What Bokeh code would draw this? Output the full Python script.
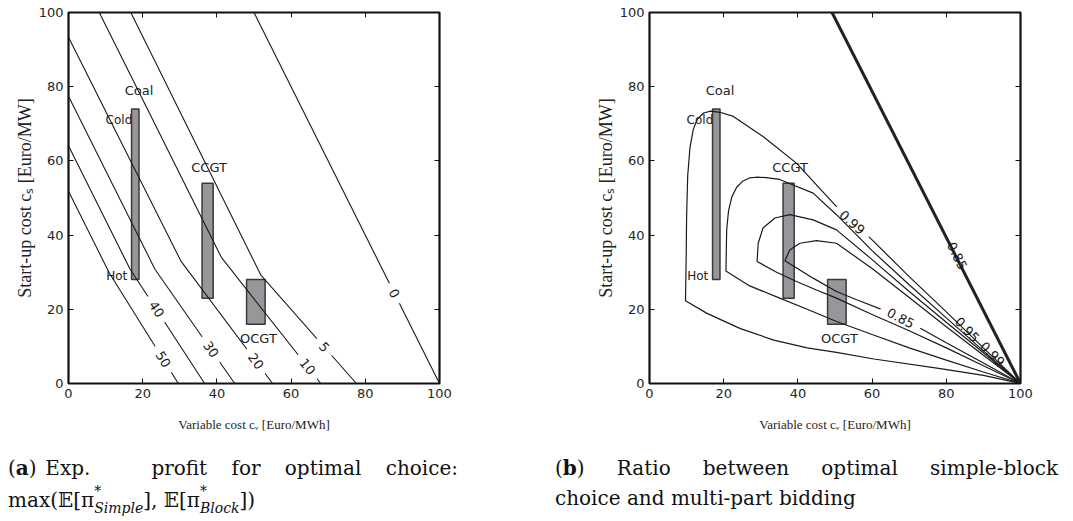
import math
from bokeh.plotting import figure
from bokeh.models import Range1d, LinearAxis, FixedTicker, Div, Spacer
from bokeh.layouts import row, column
from bokeh.core.properties import value
from bokeh.embed import file_html
from bokeh.resources import INLINE

# ---------------- data ----------------
plant_names = ["Coal", "CCGT", "OCGT"]
cv_low = [17.0, 36.0, 48.0]
cv_high = [19.0, 39.0, 53.0]
cs_low = [28.0, 23.0, 16.0]
cs_high = [74.0, 54.0, 28.0]
plant_label_x = [19.0, 37.9, 51.2]
plant_label_y = [79.0, 58.2, 12.1]
coal_states = ["Cold", "Hot"]
coal_state_x = [13.6, 13.0]
coal_state_y = [71.0, 29.0]
tick_values = [0, 20, 40, 60, 80, 100]

# (a) expected profit contours
profit_levels = ["50", "40", "30", "20", "10", "5", "0"]
profit_cv = [[0.0, 11.0, 29.6], [0.0, 16.5, 36.7], [0.0, 23.3, 44.8], [0.0, 30.3, 55.0],
             [8.3, 41.2, 68.0], [16.8, 51.8, 77.6], [50.0, 100.0]]
profit_cs = [[51.8, 29.8, 0.0], [64.1, 31.0, 0.0], [77.4, 30.8, 0.0], [93.3, 33.0, 0.0],
             [100.0, 34.0, 0.0], [100.0, 29.3, 0.0], [100.0, 0.0]]
profit_label_cv = [25.5, 23.7, 38.4, 50.5, 64.4, 68.9, 87.8]
profit_label_cs = [6.5, 20.0, 9.2, 6.0, 4.5, 9.8, 24.3]

# (b) ratio contours (closed loops through (100, 0))
ratio_cv = [
    [100, 90, 78.4, 60.5, 50.4, 42.5, 33.5, 24.5, 15.5, 9.7, 9.9, 10.0, 10.3, 10.9, 11.8,
     12.9, 14.6, 16.5, 19.0, 22.6, 30.6, 39.6, 50.4, 55, 60, 70, 80, 90, 100],
    [100, 90, 80, 70, 60, 50.4, 42.5, 35.1, 27.0, 20.6, 20.8, 21.3, 22.2, 23.5, 25.2, 27.0,
     28.8, 31.5, 35.1, 44.1, 50.4, 60, 70, 80, 90, 100],
    [100, 90, 80, 70, 60, 50.4, 45.0, 39.6, 34.0, 29.0, 29.3, 30.6, 33.8, 37.8, 44.1, 50.4,
     60, 70, 80, 90, 100],
    [100, 90, 80, 73, 67.7, 62.7, 56, 50.4, 44.1, 36.5, 37.8, 40.5, 45.0, 50.4, 60, 70, 80,
     90, 100],
]
ratio_cs = [
    [0, 2.2, 4.0, 6.6, 8.4, 9.6, 11.7, 14.8, 18.9, 22.3, 35.0, 45.0, 56.0, 63.5, 68.5,
     71.3, 72.9, 73.4, 73.1, 72.0, 66.6, 59.4, 47.7, 43.5, 38.7, 28.8, 19.3, 9.6, 0],
    [0, 3.1, 6.3, 9.6, 13.2, 16.7, 20.0, 23.0, 26.3, 30.3, 41.4, 46.5, 50.3, 52.9, 54.6, 55.4,
     55.6, 55.5, 55.0, 51.3, 45.5, 35.8, 26.6, 17.7, 8.8, 0],
    [0, 4.8, 9.6, 14.2, 18.6, 23.0, 25.2, 27.5, 30.1, 32.9, 37.8, 41.9, 44.6, 45.5, 44.1, 41.4,
     33.4, 24.8, 16.5, 8.3, 0],
    [0, 5.5, 11.0, 14.9, 17.6, 19.9, 22.5, 24.8, 28.4, 33.1, 36.0, 37.8, 38.5, 37.8, 31.0,
     23.2, 15.3, 7.6, 0],
]
ratio_boundary_cv = [49.2, 100.0]
ratio_boundary_cs = [100.0, 0.0]
ratio_labels = ["0.99", "0.85", "0.95", "0.99", "0.85"]
ratio_label_cv = [54.6, 67.7, 85.6, 92.4, 82.9]
ratio_label_cs = [43.4, 17.6, 14.5, 7.9, 34.4]
ratio_label_deg = [-42, -28, -47, -45, -63]
ratio_label_gap = [True, True, False, False, False]

# ---------------- styling helpers ----------------
INK = "#1a1a1a"
TICK_FONT = "DejaVu Sans"
AXIS_FONT = "Liberation Serif"


def style_axis(ax, show_labels):
    ax.ticker = FixedTicker(ticks=tick_values)
    ax.major_tick_in = 5
    ax.major_tick_out = 0
    ax.major_tick_line_color = "#111111"
    ax.major_tick_line_width = 1
    ax.minor_tick_line_color = None
    ax.axis_line_color = None
    if show_labels:
        ax.major_label_text_font = TICK_FONT
        ax.major_label_text_font_size = "13px"
        ax.major_label_text_color = "#262626"
        ax.major_label_standoff = 5
    else:
        ax.major_label_overrides = {v: "" for v in tick_values}
        ax.major_label_standoff = 0


def base_figure(border_left, border_right):
    p = figure(x_range=Range1d(0, 100), y_range=Range1d(0, 100),
               frame_width=371, frame_height=371,
               min_border_left=border_left, min_border_right=border_right,
               min_border_top=12, min_border_bottom=70,
               output_backend="svg", toolbar_location=None, tools="")
    p.grid.visible = False
    p.outline_line_color = "#111111"
    p.outline_line_width = 2.2
    p.background_fill_color = "white"
    p.border_fill_color = "white"
    style_axis(p.xaxis[0], True)
    style_axis(p.yaxis[0], True)
    p.xaxis.axis_label = "Variable cost c\u1d65 [Euro/MWh]"
    p.yaxis.axis_label = "Start-up cost c\u209b [Euro/MW]"
    for ax, size, stand in [(p.xaxis[0], "13px", 16), (p.yaxis[0], "18px", 1)]:
        ax.axis_label_text_font = AXIS_FONT
        ax.axis_label_text_font_size = size
        ax.axis_label_text_font_style = "normal"
        ax.axis_label_text_color = "#222222"
        ax.axis_label_standoff = stand
    top = LinearAxis()
    style_axis(top, False)
    p.add_layout(top, "above")
    rgt = LinearAxis()
    style_axis(rgt, False)
    p.add_layout(rgt, "right")

    # plant names and coal states
    p.text(x=plant_label_x, y=plant_label_y, text=plant_names, text_font=value(TICK_FONT),
           text_font_size="13px", text_color="#222222", text_align="center",
           text_baseline="middle")
    p.text(x=coal_state_x, y=coal_state_y, text=coal_states, text_font=value(TICK_FONT),
           text_font_size="12px", text_color="#222222", text_align="center",
           text_baseline="middle")
    # plant cost ranges
    p.quad(left=cv_low, right=cv_high, bottom=cs_low, top=cs_high,
           fill_color="#97979b", line_color="#3a3a3a", line_width=1.5)
    return p


def segment_angle(xs, ys, x0):
    for i in range(len(xs) - 1):
        a, b = xs[i], xs[i + 1]
        if min(a, b) <= x0 <= max(a, b) and a != b:
            return math.atan((ys[i + 1] - ys[i]) / (b - a))
    return 0.0


# ---------------- (a) ----------------
pa = base_figure(68, 89)
for xs, ys in zip(profit_cv, profit_cs):
    pa.line(xs, ys, line_color=INK, line_width=1.1)
pa_angles = [segment_angle(xs, ys, x0)
             for xs, ys, x0 in zip(profit_cv, profit_cs, profit_label_cv)]
pa_gap = [8.3 * len(t) + 14 for t in profit_levels]
pa.rect(x=profit_label_cv, y=profit_label_cs, width=pa_gap, height=6,
        width_units="screen", height_units="screen", angle=pa_angles,
        fill_color="white", line_color=None)
pa.text(x=profit_label_cv, y=profit_label_cs, text=profit_levels, angle=pa_angles,
        text_font=value(TICK_FONT), text_font_size="13px", text_color=INK,
        text_align="center", text_baseline="middle")

# ---------------- (b) ----------------
pb = base_figure(121, 20)
for xs, ys in zip(ratio_cv, ratio_cs):
    pb.line(xs, ys, line_color=INK, line_width=1.2)
pb.line(ratio_boundary_cv, ratio_boundary_cs, line_color="#222222", line_width=3)
pb_angles = [math.radians(d) for d in ratio_label_deg]
gx = [x for x, g in zip(ratio_label_cv, ratio_label_gap) if g]
gy = [y for y, g in zip(ratio_label_cs, ratio_label_gap) if g]
ga = [a for a, g in zip(pb_angles, ratio_label_gap) if g]
pb.rect(x=gx, y=gy, width=44, height=5, width_units="screen", height_units="screen",
        angle=ga, fill_color="white", line_color=None)
pb.text(x=ratio_label_cv, y=ratio_label_cs, text=ratio_labels, angle=pb_angles,
        text_font=value(TICK_FONT), text_font_size="13px", text_color=INK,
        text_align="center", text_baseline="middle")

# ---------------- captions ----------------
CAP = ("font-family:'DejaVu Serif';font-size:20px;line-height:30px;color:#111111;"
       "margin:0;padding:0;")


def stack(sub):
    return ('<span style="display:inline-block;vertical-align:-0.45em;font-size:0.7em;'
            'text-align:left"><span style="display:block;line-height:17px">*</span>'
            '<span style="display:block;line-height:17px;font-style:italic">' + sub +
            '</span></span>')


def caption(words, grow, line2, width):
    parts = []
    for i, w in enumerate(words):
        parts.append('<span>%s</span>' % w)
        if i < len(words) - 1:
            parts.append('<span style="flex:%g 1 0.3em"></span>' % grow[i])
    return ('<div style="' + CAP + 'width:%dpx">' % width +
            '<div style="display:flex;white-space:nowrap;height:30px">' + "".join(parts) +
            '</div><div style="white-space:nowrap;height:30px">' + line2 + '</div></div>')


cap_a = Div(text=caption(["(<b>a</b>)", "Exp.", "profit", "for", "optimal", "choice:"],
                         [0.15, 3, 1, 1, 1],
                         "max(\U0001D53C[\u03c0" + stack("Simple") + "], \U0001D53C[\u03c0" +
                         stack("Block") + "])", 450),
            width=450, height=60, margin=(0, 0, 0, 0))
cap_b = Div(text=caption(["(<b>b</b>)", "Ratio", "between", "optimal", "simple-block"],
                         [1, 1, 1, 1],
                         "choice and multi-part bidding", 503),
            width=503, height=60, margin=(0, 0, 0, 0))

layout = column(row(pa, pb),
                row(Spacer(width=8, height=60), cap_a, Spacer(width=97, height=60), cap_b))

open("out.html", "w").write(file_html(layout, INLINE))
